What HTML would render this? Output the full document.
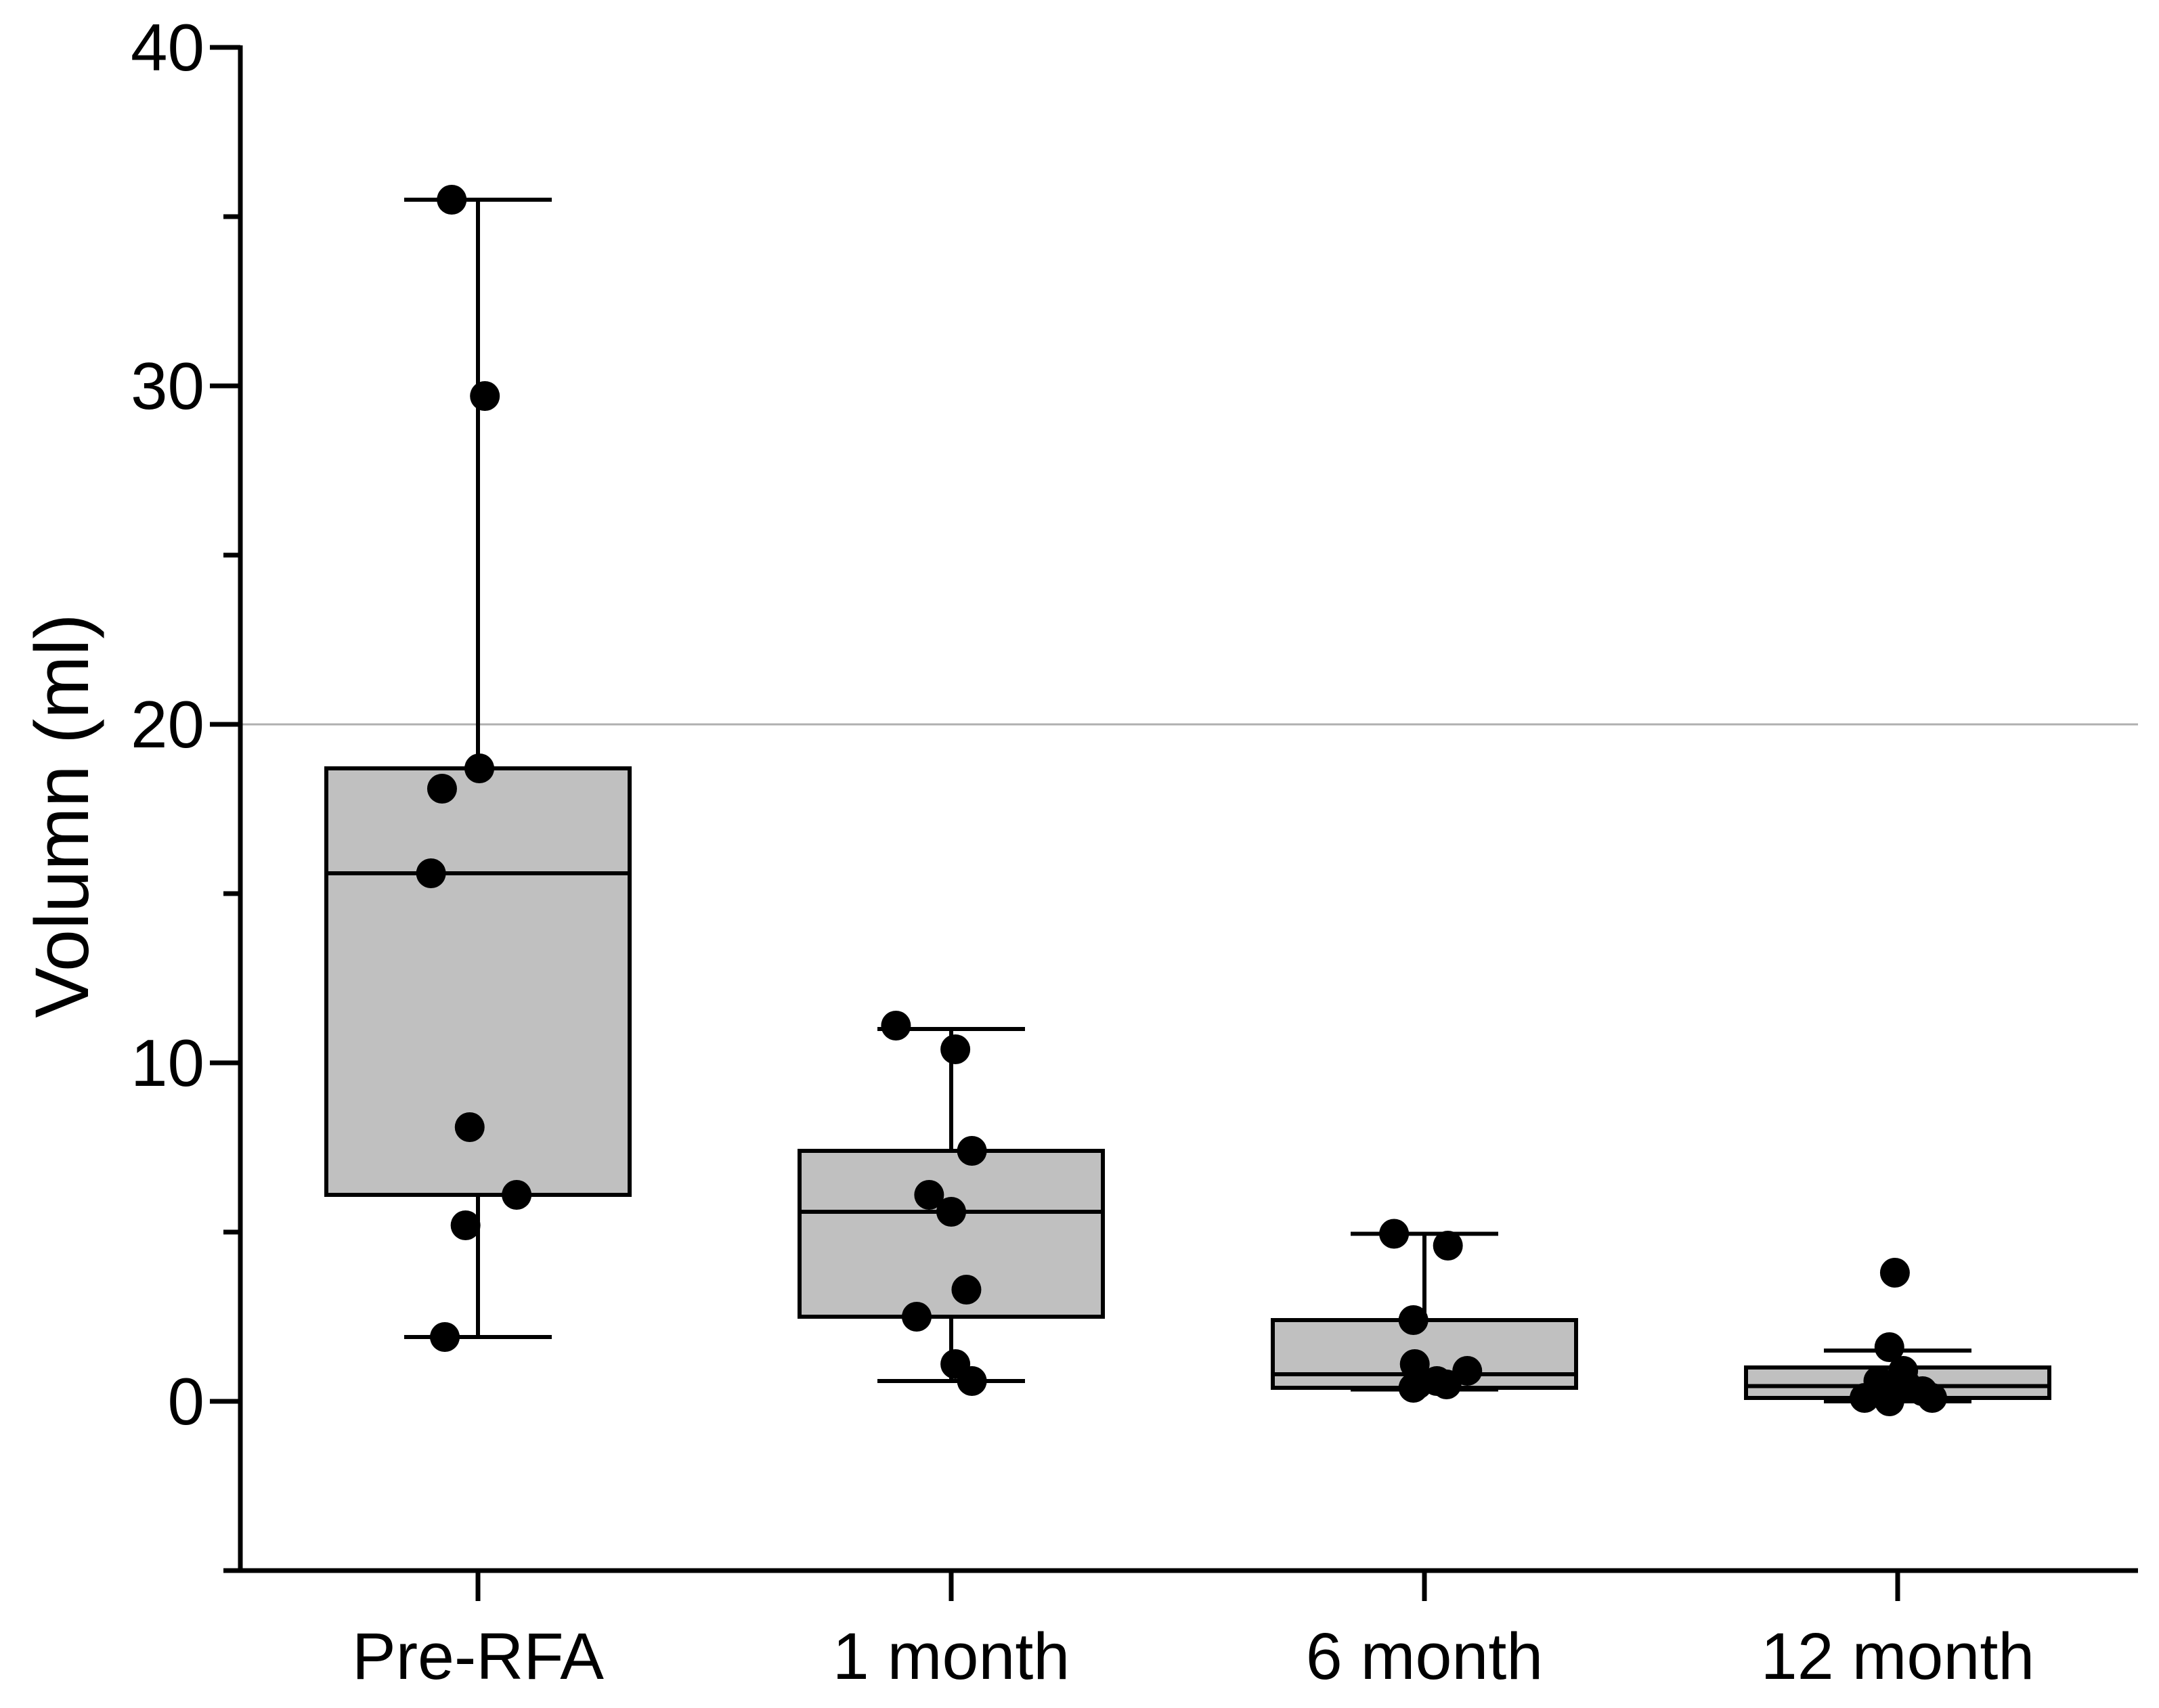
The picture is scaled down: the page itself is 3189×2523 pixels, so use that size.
<!DOCTYPE html>
<html><head><meta charset="utf-8"><style>html,body{margin:0;padding:0;background:#fff}svg{display:block}</style></head>
<body>
<svg id="chart" width="3189" height="2523" xmlns="http://www.w3.org/2000/svg" font-family="Liberation Sans, sans-serif"></svg>
<script>
const categories = ["Pre-RFA","1 month","6 month","12 month"];
const whiskerLow = [1.9, 0.6, 0.35, 0.0];
const q1 = [6.1, 2.5, 0.4, 0.1];
const median = [15.6, 5.6, 0.8, 0.45];
const q3 = [18.7, 7.4, 2.4, 1.0];
const whiskerHigh = [35.5, 11.0, 4.95, 1.5];
const points = [
  [35.5,29.7,18.7,18.1,15.6,8.1,6.1,5.2,1.9],
  [11.1,10.4,7.4,6.1,5.6,3.3,2.5,1.1,0.6],
  [4.95,4.6,2.4,1.1,0.9,0.6,0.5,0.5,0.4],
  [3.8,1.6,0.9,0.6,0.5,0.1,0.0,0.1,0.3]
];
const jitter = [
  [-19,5,1,-26,-34,-6,28,-9,-24],
  [-40,3,15,-16,0,11,-25,3,15],
  [-22,17,-8,-7,31,9,-5,16,-8],
  [-2,-6,4,-14,6,-24,-6,25,18]
];
const yTicks = [0,10,20,30,40];
const yMinorTicks = [-5,5,15,25,35];

const svg = document.getElementById('chart');
const NS = 'http://www.w3.org/2000/svg';
const Y0 = 2070, PX_PER = 50;
function y(v){ return Y0 - v*PX_PER; }
function x(i){ return 706 + i*699; }
function el(tag, attrs, parent){ const e=document.createElementNS(NS,tag); for(const k in attrs) e.setAttribute(k,attrs[k]); (parent||svg).appendChild(e); return e; }

let ref = el('line',{x1:355,x2:3158,y1:y(20),y2:y(20),stroke:'#b0b0b0','stroke-width':3});



let ya = el('line',{x1:355,x2:355,y1:y(40)-3,y2:y(-5)+3,stroke:'#000','stroke-width':7});


let xa = el('line',{x1:352,x2:3158,y1:y(-5),y2:y(-5),stroke:'#000','stroke-width':7});



yTicks.forEach(v=>{
  let t = el('line',{x1:310,x2:355,y1:y(v),y2:y(v),stroke:'#000','stroke-width':7});
  
  
  let l = el('text',{x:302,y:y(v)+34,'text-anchor':'end','font-size':98,fill:'#000'});
  l.textContent = v;
  
  
});
yMinorTicks.forEach(v=>{
  let t = el('line',{x1:330,x2:355,y1:y(v),y2:y(v),stroke:'#000','stroke-width':7});
  
  
});

let yt = el('text',{x:0,y:0,'text-anchor':'middle','font-size':112,fill:'#000',transform:'translate(130,1205) rotate(-90)'});
yt.textContent = 'Volumn (ml)';



categories.forEach((c,i)=>{
  const cx = x(i);
  let t = el('line',{x1:cx,x2:cx,y1:y(-5),y2:y(-5)+45,stroke:'#000','stroke-width':7});
  
  
  let l = el('text',{x:cx,y:2480,'text-anchor':'middle','font-size':97,fill:'#000'});
  l.textContent = c;
  
  

  const g = el('g',{});
  
  
  const hw = 224, cw = 109;
  el('line',{x1:cx,x2:cx,y1:y(whiskerHigh[i]),y2:y(whiskerLow[i]),stroke:'#000','stroke-width':6},g);
  el('line',{x1:cx-cw,x2:cx+cw,y1:y(whiskerHigh[i]),y2:y(whiskerHigh[i]),stroke:'#000','stroke-width':6},g);
  el('line',{x1:cx-cw,x2:cx+cw,y1:y(whiskerLow[i]),y2:y(whiskerLow[i]),stroke:'#000','stroke-width':6},g);
  el('rect',{x:cx-hw,y:y(q3[i]),width:hw*2,height:y(q1[i])-y(q3[i]),fill:'#c0c0c0',stroke:'#000','stroke-width':6},g);
  el('line',{x1:cx-hw,x2:cx+hw,y1:y(median[i]),y2:y(median[i]),stroke:'#000','stroke-width':6},g);
  points[i].forEach((v,j)=>{
    let p = el('circle',{cx:cx+jitter[i][j]*2.04,cy:y(v),r:22,fill:'#000'});
    
    
  });
});
</script>
</body></html>
